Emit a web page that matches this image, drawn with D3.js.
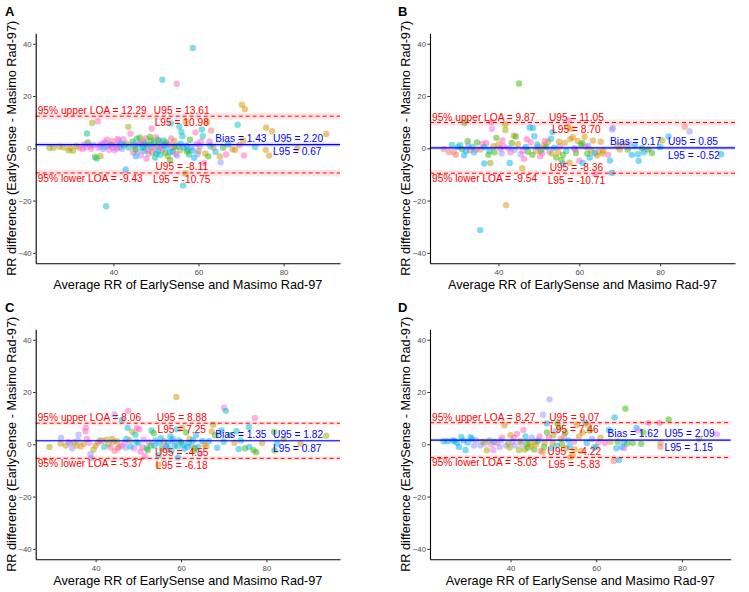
<!DOCTYPE html>
<html><head><meta charset="utf-8">
<script src="https://cdn.jsdelivr.net/npm/d3@7"></script>
<style>
body{margin:0;background:#fff;}
svg{display:block;font-family:"Liberation Sans",Arial,sans-serif;}
</style></head>
<body><svg id="c" width="749" height="592"></svg>
<script>
// ---- data ----
const panelIds = ["A","B","C","D"];
const xTitle = "Average RR of EarlySense and Masimo Rad-97";
const yTitle = "RR difference (EarlySense - Masimo Rad-97)";
const yTicks = [-40,-20,0,20,40];
const xTicks = [40,60,80];
const palette = ["#F8766D","#D89000","#A3A500","#39B600","#00BF7D","#00BFC4","#00B0F6","#9590FF","#E76BF3","#FF62BC"];

// [estimate, L95, U95]
const biasA = [1.43,0.67,2.20], upperA = [12.29,10.98,13.61], lowerA = [-9.43,-10.75,-8.11];
const biasB = [0.17,-0.52,0.85], upperB = [9.87,8.70,11.05], lowerB = [-9.54,-10.71,-8.36];
const biasC = [1.35,0.87,1.82], upperC = [8.06,7.25,8.88], lowerC = [-5.37,-6.18,-4.55];
const biasD = [1.62,1.15,2.09], upperD = [8.27,7.46,9.07], lowerD = [-5.03,-5.83,-4.22];

// points: [average RR, difference, subject group]
const ptsA = [[25.0,0.1,2],[25.9,0.2,2],[27.3,0.6,1],[28.3,0.3,2],[29.5,-0.8,2],[29.8,0.1,1],[30.5,-0.9,2],[31.3,0.8,2],[32.0,0.3,0],[32.8,-0.3,9],[33.5,0.4,8],[34.0,2.2,3],[33.8,5.7,4],[34.5,0.9,8],[35.0,9.7,2],[35.3,1.2,7],[35.7,-3.3,3],[36.1,-3.9,4],[36.3,10.3,9],[36.5,0.2,8],[37.0,-2.9,2],[37.3,1.8,9],[37.8,0.6,5],[38.0,2.3,8],[38.5,3.3,9],[38.7,0.8,7],[38.3,-22.2,5],[39.0,-0.6,9],[39.4,1.5,4],[39.8,2.8,0],[40.0,0.2,7],[40.3,-0.7,8],[40.6,1.2,9],[41.0,3.6,9],[41.3,2.9,8],[41.6,0.5,6],[42.0,-0.3,7],[42.5,1.1,5],[43.0,1.9,2],[42.9,-8.1,6],[43.6,0.3,4],[43.5,8.2,2],[44.0,5.6,9],[44.5,2.5,3],[44.6,-1.6,9],[45.0,0.8,5],[45.3,-3.0,6],[45.5,3.7,4],[45.8,-1.2,7],[46.0,1.5,5],[46.2,4.1,3],[46.5,-2.7,8],[46.8,0.2,6],[47.0,2.6,1],[47.3,-0.9,4],[47.6,3.8,9],[47.8,-4.0,9],[48.0,1.2,3],[48.3,-2.0,7],[48.6,4.3,3],[48.8,0.5,5],[49.0,7.6,9],[49.2,-1.5,1],[49.5,2.0,4],[49.8,-3.5,4],[50.0,4.2,9],[50.3,0.8,3],[50.6,-1.0,5],[50.8,2.5,2],[51.0,-2.5,5],[51.3,1.3,7],[51.5,-0.5,8],[51.8,3.0,6],[51.5,26.2,5],[52.2,-1.8,3],[52.5,0.6,5],[52.8,-3.0,2],[53.0,1.5,9],[53.3,-4.5,3],[53.5,9.5,5],[53.8,0.2,8],[54.0,-1.2,4],[54.3,2.8,1],[54.6,-2.2,9],[54.9,24.7,9],[55.2,0.8,6],[55.5,8.3,5],[55.7,-0.7,2],[56.0,6.3,5],[56.2,4.6,5],[56.9,-9.6,2],[56.4,-14.2,5],[57.0,10.2,1],[57.2,1.0,6],[57.5,-0.5,5],[57.8,-2.4,4],[58.0,3.3,3],[58.3,0.3,7],[58.7,38.4,5],[59.0,-3.6,6],[59.3,6.1,9],[59.6,1.7,8],[60.0,-1.0,1],[60.3,0.7,7],[60.8,7.2,5],[61.0,4.6,5],[61.3,-5.6,9],[61.6,-2.0,1],[62.0,10.1,1],[62.3,-3.1,3],[62.6,2.6,9],[63.0,6.8,0],[63.5,0.3,1],[64.0,-1.3,6],[65.0,-3.1,1],[65.2,-5.4,7],[65.8,0.2,3],[66.5,-2.4,9],[67.0,1.5,5],[68.0,-0.4,1],[68.6,-0.6,1],[69.2,9.0,5],[69.6,1.2,0],[70.2,16.7,1],[70.5,3.0,1],[70.7,-2.7,9],[70.9,15.0,1],[73.3,0.5,5],[75.8,-0.6,1],[75.9,7.9,1],[76.6,-2.8,1],[77.3,6.5,1],[83.2,0.0,1],[90.0,5.5,1],
  [44.8,1.5,7],[45.2,-0.5,3],[46.4,2.0,9],[47.1,0.5,5],[47.5,1.8,6],[48.1,-1.0,9],[48.9,2.9,3],[49.4,0.2,8],[50.1,-2.0,6],[50.5,3.3,4],[51.1,0.1,9],[51.9,1.0,5],[52.4,2.2,3],[53.2,-1.5,6],[53.6,3.8,9],[54.4,0.5,3],[55.0,-2.8,7],[55.8,1.8,5],[56.5,0.3,6],[57.3,-1.2,3],[36.8,1.0,8],[37.6,-0.3,7],[39.2,1.0,8],[40.8,0.0,9],[41.8,1.8,5],[34.8,-0.2,9],[33.2,1.5,8],[42.3,3.5,8],[58.6,-0.8,6],[59.8,-2.2,7],[60.5,2.5,9],[62.8,0.8,5]];

const ptsB = [[26.5,-0.3,0],[27.8,-1.5,0],[28.5,1.3,5],[29.0,-1.5,0],[29.5,-2.5,0],[30.5,1.2,5],[31.0,-0.3,3],[31.6,9.8,3],[31.5,-2.7,6],[32.4,2.7,3],[32.5,1.0,7],[33.0,-0.8,0],[33.5,0.5,5],[34.0,-1.5,6],[34.7,2.2,3],[35.5,-0.5,0],[35.5,-31.3,6],[36.0,1.8,9],[36.5,-5.8,6],[37.0,2.0,9],[37.5,-2.5,3],[38.0,-5.6,2],[38.2,10.0,9],[38.4,7.5,8],[38.8,0.8,1],[39.5,4.0,3],[40.0,1.5,1],[40.5,-0.2,9],[41.0,3.0,9],[41.7,7.0,2],[41.7,9.1,2],[41.9,-21.8,1],[42.5,0.0,7],[42.8,-5.6,6],[43.3,2.0,3],[43.8,4.8,1],[44.3,4.5,3],[44.8,1.6,1],[45.1,24.8,3],[45.5,-2.3,7],[45.9,-7.6,1],[46.3,-4.0,9],[46.8,0.5,6],[47.3,-1.3,3],[47.7,8.0,6],[48.0,2.3,9],[48.5,7.8,6],[48.9,4.6,6],[49.3,-1.0,1],[49.8,0.6,8],[50.3,-3.0,9],[50.8,-1.8,9],[51.3,1.2,1],[51.8,0.5,3],[52.3,2.5,1],[52.6,-1.2,7],[53.0,3.7,6],[53.4,6.2,6],[53.8,0.2,5],[54.3,-3.5,3],[54.8,-1.5,1],[55.2,0.8,8],[55.6,-4.5,3],[56.0,-6.0,6],[56.4,2.0,1],[56.8,-1.0,5],[57.2,8.0,1],[57.4,10.7,9],[57.6,-5.5,1],[58.0,7.5,1],[58.4,4.2,1],[58.8,0.0,7],[59.2,-1.8,3],[59.6,2.8,1],[60.0,-4.8,9],[60.4,1.5,3],[60.9,-5.6,6],[61.3,4.4,1],[61.7,0.5,9],[62.2,1.0,7],[62.6,-3.5,6],[63.0,-1.0,1],[63.4,3.0,1],[64.0,-10.0,9],[64.4,-2.8,1],[64.8,-1.3,1],[65.3,2.5,1],[66.0,-1.0,1],[67.2,-2.5,9],[67.6,-4.7,6],[68.1,-9.4,6],[68.1,7.2,7],[68.3,7.8,7],[69.5,0.8,1],[71.0,1.5,1],[72.0,-0.5,3],[73.0,-2.5,6],[73.8,1.0,6],[74.5,-2.3,6],[74.7,-4.8,6],[75.5,0.0,3],[77.0,-0.5,3],[78.0,-1.8,3],[80.0,0.5,6],[80.5,3.0,2],[82.1,4.5,6],[86.1,8.2,0],[87.3,6.4,7],[95.1,-2.3,6],
  [30.0,0.5,5],[32.0,-1.0,6],[34.5,-0.5,0],[36.5,0.5,5],[37.8,-1.0,6],[39.0,-1.5,3],[40.8,-2.0,7],[41.3,0.8,9],[43.0,-1.5,9],[44.0,-0.6,7],[46.0,-1.0,8],[47.0,3.5,9],[48.4,-2.5,3],[49.6,1.5,5],[50.5,-0.8,3],[51.5,2.8,9],[53.2,-2.0,1],[55.0,2.5,1],[56.0,-2.5,3],[57.8,3.5,1],[59.0,-0.5,9],[60.8,2.0,3],[62.0,-2.0,3],[63.8,-1.8,6],[65.8,-2.0,1],[70.0,-0.5,1],[72.5,1.8,7],[76.0,-1.5,6]];

const ptsC = [[29.2,-1.0,2],[31.8,0.3,1],[31.9,2.4,7],[33.0,-0.5,2],[33.6,0.9,8],[34.0,0.3,7],[34.5,-1.5,7],[35.0,0.8,1],[35.5,-0.5,1],[36.0,3.7,7],[36.5,-0.8,1],[37.2,0.2,1],[37.6,5.0,9],[37.7,6.3,9],[38.0,2.0,9],[38.8,-3.8,7],[39.0,-5.3,7],[39.5,-2.0,2],[40.5,0.6,9],[41.5,1.3,9],[42.0,-1.0,5],[42.5,1.8,2],[43.0,0.0,2],[43.8,2.0,1],[44.4,11.4,7],[44.5,-2.5,0],[45.0,1.2,2],[45.5,-0.9,1],[46.0,-0.5,9],[46.2,9.4,6],[46.8,0.7,8],[47.0,-1.2,7],[47.5,6.3,6],[47.6,12.8,9],[48.0,1.5,1],[48.6,4.8,2],[49.0,-1.5,8],[49.3,3.7,5],[49.5,1.0,5],[49.7,6.1,9],[50.2,5.8,9],[50.5,-2.8,9],[51.0,-1.2,9],[51.5,-4.5,9],[52.0,-1.5,5],[52.5,0.8,8],[53.0,-0.5,3],[53.1,5.3,5],[53.6,4.3,3],[54.0,1.5,6],[54.7,-4.2,5],[54.7,-7.8,1],[55.0,0.5,6],[55.5,-1.8,3],[56.0,1.2,1],[56.5,-0.8,6],[57.0,-1.5,5],[57.5,3.0,5],[58.0,2.0,6],[58.5,-0.5,6],[58.9,18.1,1],[59.0,5.8,6],[59.3,-5.0,6],[59.5,1.5,6],[60.0,0.8,3],[60.3,6.3,1],[60.8,-1.7,6],[61.2,4.5,3],[61.5,-1.0,6],[62.0,2.0,1],[62.5,-0.5,7],[63.0,-2.5,3],[63.5,3.5,6],[64.0,-1.0,6],[64.5,-3.5,7],[65.0,1.3,6],[65.5,-0.3,1],[66.5,1.2,6],[67.2,4.9,1],[67.5,7.5,2],[68.0,3.5,3],[68.5,-1.3,6],[69.5,5.3,6],[70.0,1.0,5],[70.1,14.0,8],[70.5,12.8,5],[71.5,3.5,3],[72.5,0.6,1],[73.0,5.0,5],[73.5,-1.8,6],[74.0,1.5,5],[75.0,-1.5,3],[75.9,6.5,5],[76.0,-1.0,6],[77.0,-2.3,3],[77.3,10.1,9],[77.6,-3.0,3],[79.0,0.5,1],[81.8,4.7,3],[81.9,-2.3,3],[82.5,0.2,5],[84.0,2.0,2],[88.0,0.2,1],[94.0,3.3,2],
  [35.8,1.5,7],[38.5,0.5,8],[40.0,-0.5,1],[41.0,1.5,2],[43.5,-1.2,9],[44.2,1.0,1],[45.2,-1.5,9],[47.2,2.0,6],[48.2,-0.8,6],[50.0,0.5,5],[51.2,1.8,8],[52.2,-2.2,3],[53.8,-0.5,6],[55.3,2.3,6],[56.2,-1.0,7],[57.0,0.8,6],[57.8,-2.5,5],[58.2,1.2,7],[59.2,-0.8,5],[60.5,-0.2,6],[61.8,0.5,5],[62.8,1.5,6],[63.2,-1.5,3],[66.0,-0.8,1]];

const ptsD = [[24.4,1.2,6],[25.3,1.2,6],[26.5,1.5,6],[27.0,1.3,6],[27.5,0.5,6],[28.0,-1.0,6],[28.5,2.8,5],[29.0,1.5,6],[29.5,-2.2,6],[30.0,0.7,6],[30.7,2.7,6],[31.0,2.0,6],[32.0,1.5,7],[33.0,-0.5,7],[34.0,0.3,7],[34.5,-2.3,2],[35.0,1.5,2],[35.5,0.0,9],[36.0,-2.2,8],[36.2,1.0,5],[37.5,-1.0,7],[38.0,2.5,9],[38.6,7.3,1],[39.0,-0.5,7],[39.5,0.5,2],[40.0,3.5,1],[40.5,1.0,7],[41.0,-0.5,7],[41.5,4.0,9],[42.0,-2.2,2],[42.5,0.2,7],[43.0,5.5,9],[43.3,-2.0,2],[43.5,3.0,5],[44.0,-1.3,3],[44.5,0.5,2],[45.0,2.5,7],[45.5,-2.0,3],[46.0,0.0,1],[46.5,1.5,5],[47.0,-2.5,9],[47.5,-3.0,1],[47.6,11.3,7],[48.0,0.7,1],[48.5,4.5,3],[48.5,8.0,6],[49.0,2.5,9],[49.1,17.2,7],[49.5,-1.5,6],[50.0,3.5,2],[50.5,5.0,7],[51.0,8.0,3],[51.5,6.2,3],[52.0,0.0,3],[52.5,3.2,9],[53.0,-1.5,1],[53.5,1.5,5],[54.0,-5.0,1],[54.5,-4.0,1],[55.0,-2.0,1],[55.5,7.5,1],[56.0,3.0,1],[56.8,4.5,1],[57.5,8.3,6],[58.0,7.5,1],[58.5,5.3,3],[59.0,2.0,7],[59.5,-1.3,6],[60.5,0.8,9],[61.0,2.5,1],[63.0,5.5,6],[63.3,1.0,1],[64.1,-6.4,0],[64.3,10.3,6],[64.7,-1.5,6],[65.0,1.0,3],[65.3,-6.0,6],[66.0,-1.0,6],[66.5,-1.5,8],[66.8,13.6,3],[67.2,0.3,3],[68.5,0.5,3],[69.4,6.3,6],[69.8,5.3,8],[71.0,4.5,3],[72.2,8.2,9],[74.8,8.2,9],[75.0,0.5,1],[75.0,-1.0,0],[76.9,9.5,3],[84.0,2.0,2],[88.2,3.8,8],
  [31.5,-0.5,7],[33.5,1.0,2],[36.8,0.5,9],[37.8,1.5,7],[39.8,-1.2,2],[40.8,2.5,9],[42.2,1.2,1],[43.8,0.2,3],[44.8,-0.8,1],[45.8,1.0,2],[46.8,3.0,9],[47.8,-1.0,3],[49.8,0.5,1],[50.8,-0.5,5],[51.8,2.0,1],[52.8,4.5,3],[53.8,-0.8,6],[54.8,1.0,9],[56.5,-2.5,1],[57.8,0.5,6],[60.0,-1.0,5],[62.0,0.5,9],[66.5,0.8,6],[70.5,0.2,3]];

// ---- layout ----
const panels = [
  {id:"A", pts:ptsA, bias:biasA, upper:upperA, lower:lowerA, L:35.7, R:340, T:33.3, B:263.3, lx:5, ly:15.5, ytx:11.5},
  {id:"B", pts:ptsB, bias:biasB, upper:upperB, lower:lowerB, L:430, R:735, T:33.3, B:263.3, lx:398, ly:15.5, ytx:405.5},
  {id:"C", pts:ptsC, bias:biasC, upper:upperC, lower:lowerC, L:35.7, R:340, T:329.3, B:559.3, lx:5, ly:311.5, ytx:11.5},
  {id:"D", pts:ptsD, bias:biasD, upper:upperD, lower:lowerD, L:430, R:730.7, T:329.3, B:559.3, lx:398, ly:311.5, ytx:405.5}
];

const svg = d3.select("#c");
const fmt = v => v.toFixed(2);
const annFont = 10.2;

panels.forEach(p => {
  const ext = d3.extent(p.pts, d => d[0]);
  const pad = (ext[1]-ext[0])*0.05;
  const x = d3.scaleLinear().domain([ext[0]-pad, ext[1]+pad]).range([p.L, p.R]);
  const y = d3.scaleLinear().domain([-44, 44]).range([p.B, p.T]);
  const g = svg.append("g");

  // points
  g.append("g").selectAll("circle").data(p.pts).join("circle")
    .attr("cx", d => x(d[0])).attr("cy", d => y(d[1])).attr("r", 3.2)
    .attr("fill", d => palette[d[2]]).attr("fill-opacity", 0.5);

  // bands
  const band = (v, col, op) => g.append("rect")
    .attr("x", p.L).attr("width", p.R - p.L)
    .attr("y", y(v[2])).attr("height", y(v[1]) - y(v[2]))
    .attr("fill", col).attr("fill-opacity", op);
  band(p.upper, "#FF0000", 0.1);
  band(p.lower, "#FF0000", 0.1);
  band(p.bias, "#0000FF", 0.15);

  // lines
  [p.upper, p.lower].forEach(v => g.append("line")
    .attr("x1", p.L).attr("x2", p.R).attr("y1", y(v[0])).attr("y2", y(v[0]))
    .attr("stroke", "#FF0000").attr("stroke-width", 1).attr("stroke-dasharray", "4,3"));
  g.append("line").attr("x1", p.L).attr("x2", p.R)
    .attr("y1", y(p.bias[0])).attr("y2", y(p.bias[0]))
    .attr("stroke", "#0000FF").attr("stroke-width", 1.2);

  // axes
  const xa = g.append("g").attr("transform", `translate(0,${p.B})`)
    .call(d3.axisBottom(x).tickValues(xTicks).tickSize(3).tickPadding(2.7).tickSizeOuter(0));
  const ya = g.append("g").attr("transform", `translate(${p.L},0)`)
    .call(d3.axisLeft(y).tickValues(yTicks).tickSize(2.7).tickPadding(1.3).tickSizeOuter(0));
  [xa, ya].forEach(a => {
    a.select(".domain").attr("stroke", "#000").attr("stroke-width", 1.1);
    a.selectAll(".tick line").attr("stroke", "#333");
    a.selectAll(".tick text").attr("fill", "#4D4D4D").attr("font-size", 7.8)
      .attr("font-family", "Liberation Sans, Arial, sans-serif");
  });

  // annotation texts
  const txt = (s, xx, yy, col, anchor) => g.append("text").attr("x", xx).attr("y", yy)
    .attr("fill", col).attr("font-size", annFont).attr("text-anchor", anchor).text(s);
  const w = p.R - p.L;
  const cx = p.L + w*0.48, bx = p.L + w*0.59, ux = p.L + w*0.78;
  const yu = y(p.upper[0]), yl = y(p.lower[0]), yb = y(p.bias[0]);
  txt("95% upper LOA = " + fmt(p.upper[0]), p.L + 2, yu - 1.8, "#FF0000", "start");
  txt("U95 = " + fmt(p.upper[2]), cx, yu - 1.8, "#FF0000", "middle");
  txt("L95 = " + fmt(p.upper[1]), cx, yu + 10, "#FF0000", "middle");
  txt("95% lower LOA = " + fmt(p.lower[0]), p.L + 2, yl + 8.8, "#FF0000", "start");
  txt("U95 = " + fmt(p.lower[2]), cx, yl - 2.5, "#FF0000", "middle");
  txt("L95 = " + fmt(p.lower[1]), cx, yl + 10.5, "#FF0000", "middle");
  txt("Bias = " + fmt(p.bias[0]), bx, yb - 2.8, "#0000FF", "start");
  txt("U95 = " + fmt(p.bias[2]), ux, yb - 2.8, "#0000FF", "start");
  txt("L95 = " + fmt(p.bias[1]), ux, yb + 10.8, "#0000FF", "start");

  // axis titles
  g.append("text").attr("x", (p.L + p.R)/2).attr("y", p.B + 25.2)
    .attr("text-anchor", "middle").attr("font-size", 12.7).attr("fill", "#000").text(xTitle);
  g.append("text").attr("transform", `translate(${p.ytx + 4.5},${(p.T + p.B)/2}) rotate(-90)`)
    .attr("text-anchor", "middle").attr("font-size", 12.7).attr("fill", "#000").text(yTitle);

  // panel letter
  g.append("text").attr("x", p.lx).attr("y", p.ly).attr("font-size", 13)
    .attr("font-weight", "bold").attr("fill", "#000").text(p.id);
});
</script>
</body></html>
